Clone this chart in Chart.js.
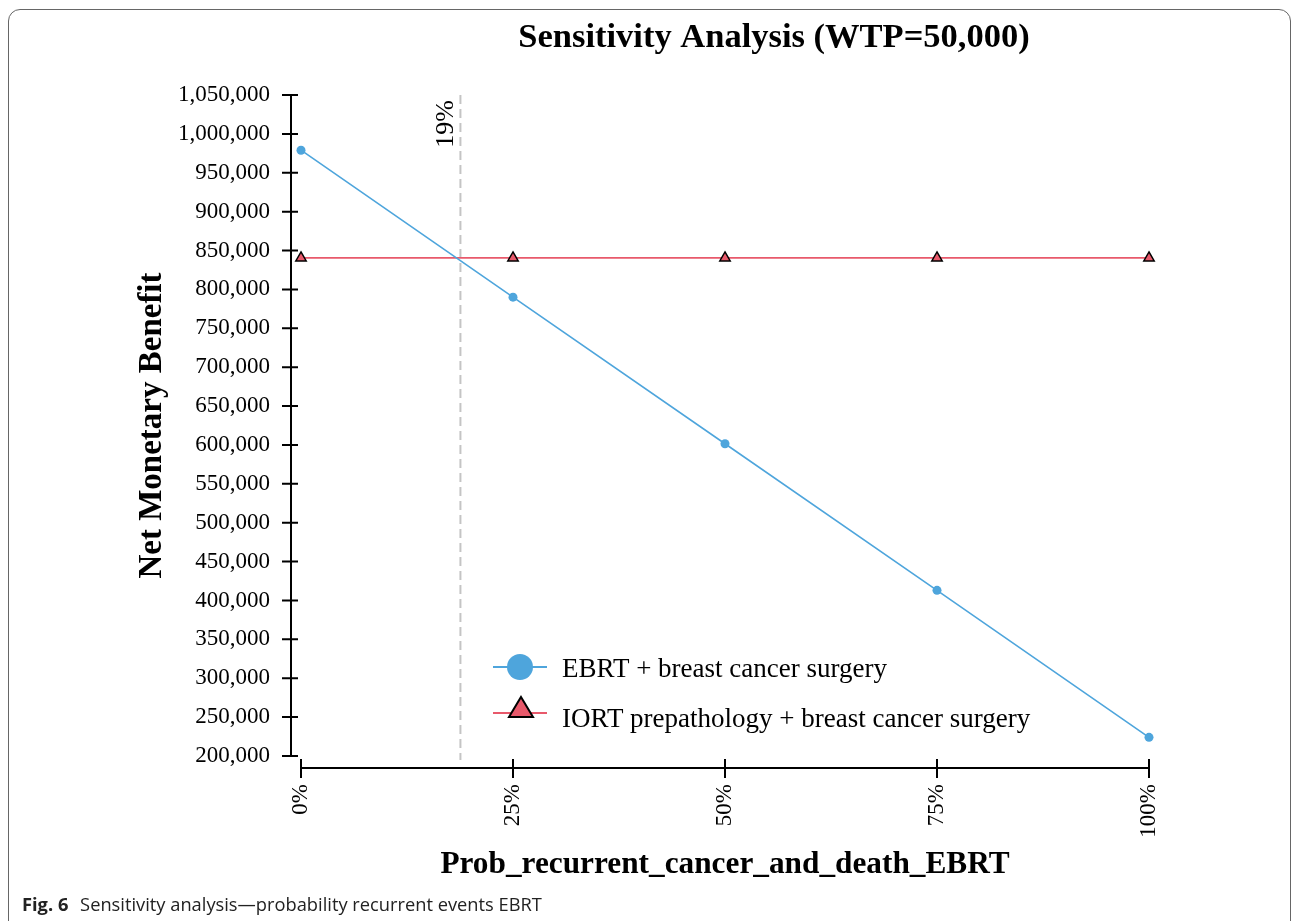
<!DOCTYPE html>
<html>
<head>
<meta charset="utf-8">
<script src="https://cdn.jsdelivr.net/npm/chart.js@4.4.1/dist/chart.umd.min.js"></script>
<style>
    body { margin: 0; background: #fff; }
    #frame { position: absolute; left: 8px; top: 9px; width: 1281px; height: 930px; border: 1px solid #666; border-radius: 12px; }
    #wrap { position: absolute; left: 0; top: 0; width: 1292px; height: 921px; }
    #caption { position: absolute; left: 22px; top: 891px; font-family: "Open Sans"; font-size: 18.3px; color: #222; white-space: nowrap; }
    #caption b { margin-right: 7px; }
</style>
</head>
<body>
<div id="frame"></div>
<div id="wrap"><canvas id="nmbChart" width="1292" height="921"></canvas></div>
<div id="caption"><b>Fig. 6</b> Sensitivity analysis—probability recurrent events EBRT</div>
<script>
// values
const probLevels = [0, 25, 50, 75, 100];
const ebrtValues = [979000, 790000, 601500, 413000, 224000];
const iortValues = [840500, 840500, 840500, 840500, 840500];
const seriesNames = ['EBRT + breast cancer surgery', 'IORT prepathology + breast cancer surgery'];
const yMin = 200000, yMax = 1050000, yStep = 50000;
const thresholdProb = 18.8;
const thresholdLabel = '19%';

const serif = '"Liberation Serif", "Times New Roman", serif';
const blue = '#4ea5dc';
const red = '#e8596b';

// R-style detached axes + threshold line
const axesPlugin = {
    id: 'axesPlugin',
    beforeDatasetsDraw(chart) {
        const {ctx, chartArea, scales: {x, y}} = chart;
        ctx.save();
        ctx.strokeStyle = '#000';
        ctx.lineWidth = 2;
        ctx.beginPath();
        const ax = chartArea.left - 10;
        ctx.moveTo(ax, y.getPixelForValue(yMax));
        ctx.lineTo(ax, y.getPixelForValue(yMin));
        y.ticks.forEach(t => {
            const py = y.getPixelForValue(t.value);
            ctx.moveTo(ax - 9, py);
            ctx.lineTo(ax + 7, py);
        });
        const ay = chartArea.bottom + 12;
        ctx.moveTo(x.getPixelForValue(0), ay);
        ctx.lineTo(x.getPixelForValue(100), ay);
        x.ticks.forEach(t => {
            const px = x.getPixelForValue(t.value);
            ctx.moveTo(px, ay - 9);
            ctx.lineTo(px, ay + 10);
        });
        ctx.stroke();

        // threshold
        const tx = x.getPixelForValue(thresholdProb);
        ctx.strokeStyle = '#c4c4c4';
        ctx.lineWidth = 2;
        ctx.setLineDash([9, 5]);
        ctx.beginPath();
        ctx.moveTo(tx, chartArea.top);
        ctx.lineTo(tx, chartArea.bottom + 4);
        ctx.stroke();
        ctx.setLineDash([]);

        ctx.translate(tx - 14, chartArea.top + 5);
        ctx.rotate(-Math.PI / 2);
        ctx.fillStyle = '#000';
        ctx.font = '26px ' + serif;
        ctx.textAlign = 'right';
        ctx.textBaseline = 'middle';
        ctx.fillText(thresholdLabel, 0, 0);
        ctx.restore();
    },
    afterDraw(chart) {
        const {ctx} = chart;
        ctx.save();
        ctx.fillStyle = '#000';
        ctx.font = 'bold 34.5px ' + serif;
        ctx.textAlign = 'center';
        ctx.textBaseline = 'middle';
        ctx.fillText('Sensitivity Analysis (WTP=50,000)', 774, 38);

        // legend
        const rows = [667, 713];
        chart.data.datasets.forEach((ds, i) => {
            const ly = rows[i];
            ctx.strokeStyle = ds.borderColor;
            ctx.lineWidth = 2;
            ctx.beginPath();
            ctx.moveTo(493, ly);
            ctx.lineTo(547, ly);
            ctx.stroke();
            ctx.fillStyle = ds.pointBackgroundColor;
            ctx.beginPath();
            if (i === 0) {
                ctx.arc(520, ly, 13, 0, Math.PI * 2);
                ctx.fill();
            } else {
                ctx.moveTo(521, ly - 16);
                ctx.lineTo(533, ly + 4);
                ctx.lineTo(509, ly + 4);
                ctx.closePath();
                ctx.fill();
                ctx.strokeStyle = '#000';
                ctx.lineWidth = 2;
                ctx.stroke();
            }
            ctx.fillStyle = '#000';
            ctx.font = '27px ' + serif;
            ctx.textAlign = 'left';
            ctx.fillText(ds.label, 562, [670, 720][i]);
        });
        ctx.restore();
    }
};

const ctx = document.getElementById('nmbChart').getContext('2d');
const chart = new Chart(ctx, {
    type: 'line',
    data: {
        datasets: [
            {
                label: seriesNames[0],
                data: probLevels.map((p, i) => ({x: p, y: ebrtValues[i]})),
                borderColor: blue,
                borderWidth: 1.6,
                pointBackgroundColor: blue,
                pointBorderColor: blue,
                pointRadius: 4.5,
                pointBorderWidth: 0,
                clip: false,
            },
            {
                label: seriesNames[1],
                data: probLevels.map((p, i) => ({x: p, y: iortValues[i]})),
                borderColor: red,
                borderWidth: 1.8,
                pointStyle: 'triangle',
                pointBackgroundColor: red,
                pointBorderColor: '#000',
                pointBorderWidth: 1.5,
                pointRadius: 6,
                clip: false,
            }
        ]
    },
    plugins: [axesPlugin],
    options: {
        responsive: false,
        animation: false,
        layout: { padding: { left: 0, right: 143, top: 95, bottom: 35 } },
        plugins: { legend: { display: false }, tooltip: { enabled: false } },
        scales: {
            x: {
                type: 'linear',
                min: 0,
                max: 100,
                grid: { display: false, drawTicks: false },
                border: { display: false },
                ticks: {
                    stepSize: 25,
                    minRotation: 90,
                    maxRotation: 90,
                    padding: 28,
                    color: '#000',
                    font: { family: serif, size: 23 },
                    callback: v => v + '%'
                },
                title: {
                    display: true,
                    text: 'Prob_recurrent_cancer_and_death_EBRT',
                    color: '#000',
                    font: { family: serif, size: 31.3, weight: 'bold' },
                    padding: { top: 0, bottom: 2 }
                },
                afterFit: s => { s.height = 130; }
            },
            y: {
                min: yMin,
                max: yMax,
                grid: { display: false, drawTicks: false },
                border: { display: false },
                ticks: {
                    stepSize: yStep,
                    padding: 31,
                    color: '#000',
                    font: { family: serif, size: 23 },
                    callback: v => v.toLocaleString('en-US')
                },
                title: {
                    display: true,
                    text: 'Net Monetary Benefit',
                    color: '#000',
                    font: { family: serif, size: 33, weight: 'bold' },
                    padding: { top: 133, bottom: 0 }
                },
                afterFit: s => { s.width = 301; }
            }
        }
    }
});
</script>
</body>
</html>
